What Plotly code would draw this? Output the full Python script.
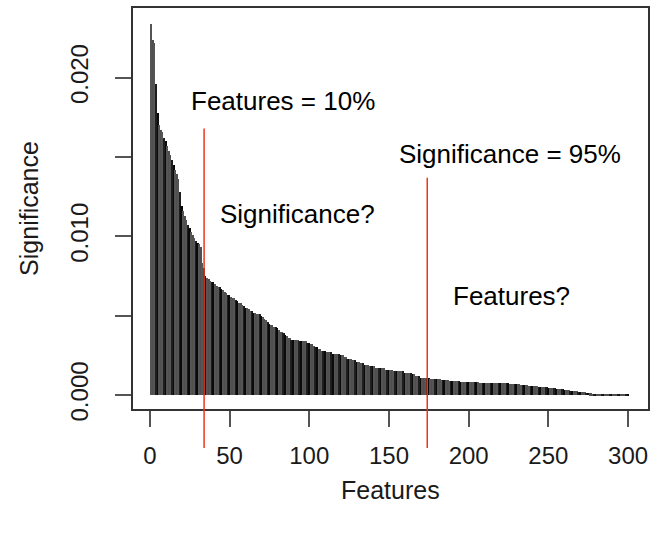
import plotly.graph_objects as go

# Feature significance, sorted in decreasing order (feature rank 1..300)
significance = [
    0.0234, 0.0224, 0.0222, 0.0196, 0.0178, 0.0170, 0.0167, 0.0166, 0.0162, 0.0160,
    0.0157, 0.0154, 0.0151, 0.0148, 0.0145, 0.0142, 0.0139, 0.0136, 0.0128, 0.0119,
    0.0116, 0.0113, 0.0110, 0.0107, 0.0105, 0.0103, 0.0101, 0.0099, 0.0097, 0.0096,
    0.0095, 0.0093, 0.0083, 0.0080, 0.0075, 0.0074, 0.0073, 0.0072, 0.0071, 0.0071,
    0.0070, 0.0069, 0.0068, 0.0068, 0.0067, 0.0066, 0.0065, 0.0064, 0.0063, 0.0063,
    0.0062, 0.0061, 0.0061, 0.0060, 0.0059, 0.0058, 0.0058, 0.0057, 0.0056, 0.0055,
    0.0055, 0.0054, 0.0053, 0.0053, 0.0052, 0.0052, 0.0051, 0.0051, 0.0051, 0.0050,
    0.0049, 0.0048, 0.0047, 0.0046, 0.0045, 0.0044, 0.0044, 0.0043, 0.0043, 0.0042,
    0.0041, 0.0040, 0.0040, 0.0039, 0.0038, 0.0037, 0.0036, 0.0036, 0.0035, 0.0035,
    0.0035, 0.0035, 0.0035, 0.0034, 0.0034, 0.0034, 0.0034, 0.0034, 0.0033, 0.0033,
    0.0032, 0.0032, 0.0031, 0.0030, 0.0030, 0.0029, 0.0029, 0.0028, 0.0028, 0.0028,
    0.0027, 0.0027, 0.0027, 0.0027, 0.0026, 0.0026, 0.0026, 0.0026, 0.0026, 0.0025,
    0.0025, 0.0024, 0.0024, 0.0023, 0.0023, 0.0023, 0.0022, 0.0022, 0.0022, 0.0021,
    0.0021, 0.0020, 0.0020, 0.0020, 0.0019, 0.0019, 0.0019, 0.0018, 0.0018, 0.0018,
    0.0018, 0.0017, 0.0017, 0.0017, 0.0017, 0.0017, 0.0017, 0.0016, 0.0016, 0.0016,
    0.0016, 0.0016, 0.0015, 0.0015, 0.0015, 0.0015, 0.0015, 0.0015, 0.0015, 0.0014,
    0.0014, 0.0014, 0.0014, 0.0014, 0.0013, 0.0013, 0.0012, 0.0012, 0.0012, 0.0011,
    0.0011, 0.0011, 0.0011, 0.0011, 0.0011, 0.0010, 0.0010, 0.0010, 0.0010, 0.0010,
    0.00100, 0.00098, 0.00096, 0.00095, 0.00094, 0.00093, 0.00092, 0.00091, 0.00090, 0.00089,
    0.00088, 0.00087, 0.00086, 0.00086, 0.00085, 0.00084, 0.00084, 0.00083, 0.00083, 0.00082,
    0.00082, 0.00081, 0.00081, 0.00080, 0.00080, 0.00080, 0.00079, 0.00079, 0.00079, 0.00078,
    0.00078, 0.00078, 0.00077, 0.00077, 0.00077, 0.00076, 0.00076, 0.00076, 0.00075, 0.00075,
    0.00075, 0.00074, 0.00074, 0.00073, 0.00073, 0.00072, 0.00072, 0.00071, 0.00070, 0.00069,
    0.00068, 0.00067, 0.00066, 0.00065, 0.00063, 0.00062, 0.00061, 0.00059, 0.00058, 0.00057,
    0.00056, 0.00055, 0.00054, 0.00053, 0.00052, 0.00051, 0.00050, 0.00049, 0.00048, 0.00047,
    0.00046, 0.00045, 0.00043, 0.00042, 0.00040, 0.00039, 0.00037, 0.00036, 0.00035, 0.00033,
    0.00032, 0.00031, 0.00030, 0.00028, 0.00027, 0.00026, 0.00025, 0.00023, 0.00022, 0.00021,
    0.00019, 0.00018, 0.00017, 0.00015, 0.00014, 0.00012, 0.00010, 0.00008, 0.00006, 0.00005,
    0.00004, 0.00004, 0.00004, 0.00003, 0.00003, 0.00003, 0.00003, 0.00003, 0.00003, 0.00003,
    0.00003, 0.00003, 0.00003, 0.00002, 0.00002, 0.00002, 0.00002, 0.00002, 0.00002, 0.00002,
]
features = list(range(1, len(significance) + 1))

# Cut-off positions (feature rank) and the heights the marker lines reach
features_cut = 34          # top 10% of features
significance_cut = 174     # cumulative significance reaches 95%
features_cut_top = 0.0168
significance_cut_top = 0.0137

x_tick_vals = [0, 50, 100, 150, 200, 250, 300]
y_tick_vals = [0.000, 0.005, 0.010, 0.015, 0.020]
y_tick_text = ["0.000", "", "0.010", "", "0.020"]

x_range = [-10.6, 312.5]
y_range = [-0.00088, 0.02439]

FONT = "Liberation Sans, Arial, Helvetica, sans-serif"
RED = "#f5311a"
TEXT = "#1a1a1a"

W, H = 656, 533
L, R, T, B = 133, 6, 6, 124
pw, ph = W - L - R, H - T - B

# thin bars with dark borders: the borders merge into darker bands
shade_cycle = ["#555555", "#4f4f4f", "#555555", "#1e1e1e", "#0a0a0a"]
bar_colors = [shade_cycle[i % len(shade_cycle)] for i in range(len(features))]

fig = go.Figure()
fig.add_trace(go.Bar(
    x=features,
    y=significance,
    width=1,
    marker=dict(color=bar_colors, line=dict(width=0)),
    hoverinfo="x+y",
))


def to_paper(v):
    return (v - y_range[0]) / (y_range[1] - y_range[0])


line_bottom = -0.097  # lines run down past the x axis
for xc, top in [(features_cut, features_cut_top), (significance_cut, significance_cut_top)]:
    fig.add_shape(type="line", xref="x", yref="paper",
                  x0=xc, x1=xc, y0=line_bottom, y1=to_paper(top),
                  line=dict(color=RED, width=1.5))

notes = [
    ("Features = 10%", 24.4, 0.01850),
    ("Significance?", 42.5, 0.01141),
    ("Significance = 95%", 155.0, 0.01517),
    ("Features?", 188.8, 0.00621),
]
for txt, xv, yv in notes:
    fig.add_annotation(text=txt, x=xv, y=yv, xref="x", yref="y",
                       xanchor="left", yanchor="middle", showarrow=False,
                       font=dict(family=FONT, size=26, color="black"))

# Axis titles, placed by pixel position and converted to paper coordinates
fig.add_annotation(text="Features", x=0.5, y=(H - B - 490) / ph,
                   xref="paper", yref="paper", xanchor="center", yanchor="middle",
                   showarrow=False, font=dict(family=FONT, size=25, color=TEXT))
fig.add_annotation(text="Significance", x=(28 - L) / pw, y=0.5,
                   xref="paper", yref="paper", xanchor="center", yanchor="middle",
                   showarrow=False, textangle=-90,
                   font=dict(family=FONT, size=25, color=TEXT))

fig.update_layout(
    width=W, height=H,
    margin=dict(l=L, r=R, t=T, b=B),
    paper_bgcolor="white", plot_bgcolor="white",
    showlegend=False, bargap=0,
    font=dict(family=FONT, color=TEXT),
)
fig.update_xaxes(
    range=x_range, tickvals=x_tick_vals,
    showgrid=False, zeroline=False,
    showline=True, mirror=True, linecolor="#333333", linewidth=1.5,
    ticks="outside", ticklen=16, tickwidth=1.5, tickcolor="#555555",
    ticklabelstandoff=8,
    tickfont=dict(family=FONT, size=24, color=TEXT),
)
fig.update_yaxes(
    range=y_range, tickvals=y_tick_vals, ticktext=y_tick_text,
    showgrid=False, zeroline=False,
    showline=True, mirror=True, linecolor="#333333", linewidth=1.5,
    ticks="outside", ticklen=16, tickwidth=1.5, tickcolor="#555555",
    tickangle=-90, ticklabelstandoff=18,
    tickfont=dict(family=FONT, size=24, color=TEXT),
)

fig.write_html("out.html")
